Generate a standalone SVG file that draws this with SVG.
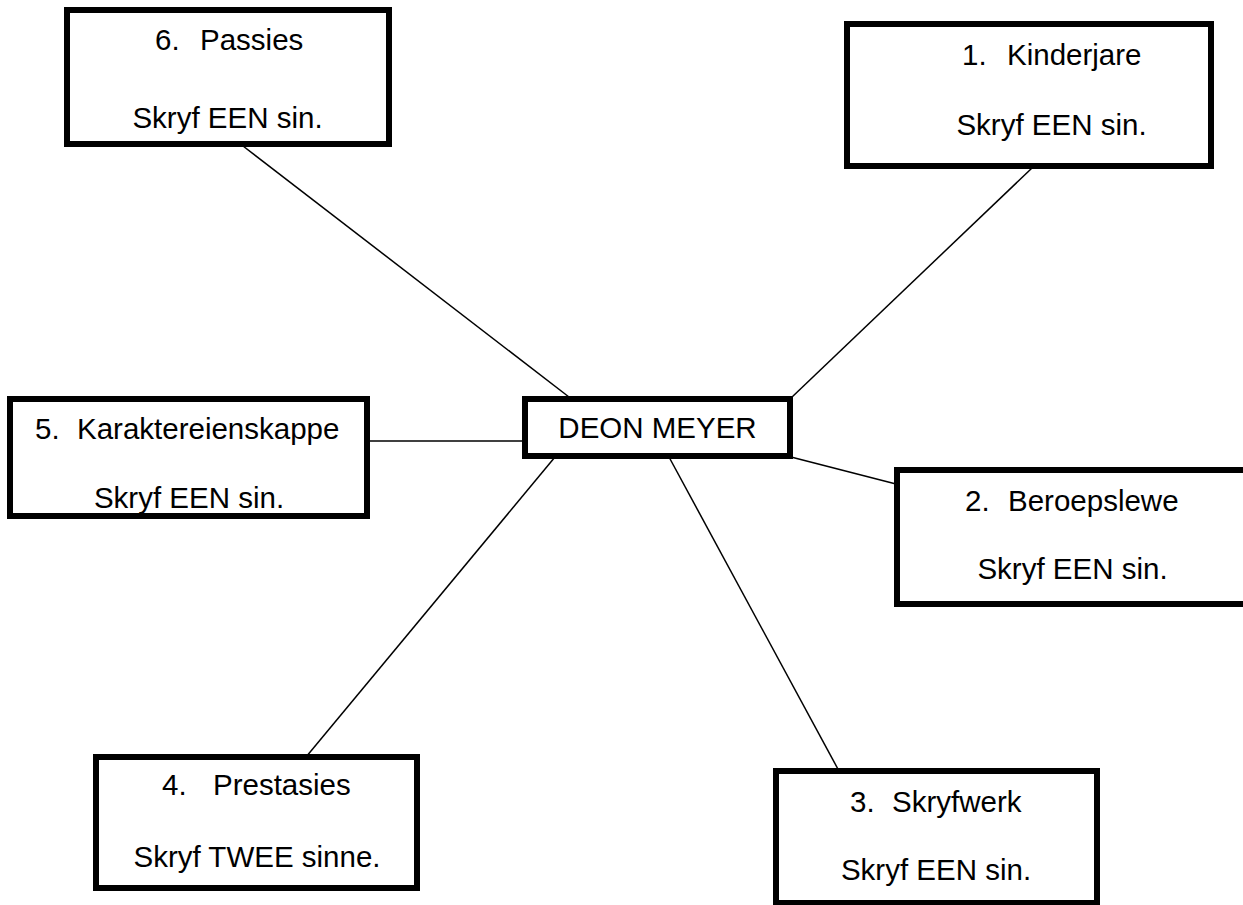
<svg xmlns="http://www.w3.org/2000/svg" width="1243" height="905" viewBox="0 0 1243 905">
<style>
.box{fill:#fff;stroke:#000;stroke-width:6}
.t{font-family:"Liberation Sans",Arial,sans-serif;font-size:29.5px;fill:#000}
.c{text-anchor:middle}
.ln{stroke:#000;stroke-width:1.5;fill:none}
</style>
<rect width="1243" height="905" fill="#fff"/>
<g id="connectors">
<line class="ln" x1="243" y1="146" x2="569" y2="397"/>
<line class="ln" x1="1032" y1="168" x2="791" y2="398"/>
<line class="ln" x1="368" y1="441" x2="525" y2="441"/>
<line class="ln" x1="791" y1="457" x2="896" y2="484"/>
<line class="ln" x1="555" y1="457" x2="306" y2="757"/>
<line class="ln" x1="669" y1="457" x2="839" y2="771"/>
</g>
<g id="node6">
<rect class="box" x="67" y="10" width="322" height="134"/>
<text class="t" y="50"><tspan x="155">6.</tspan><tspan x="200">Passies</tspan></text>
<text class="t c" x="227.5" y="128">Skryf EEN sin.</text>
</g>
<g id="node1">
<rect class="box" x="847" y="24" width="364" height="142"/>
<text class="t" y="65"><tspan x="962">1.</tspan><tspan x="1007">Kinderjare</tspan></text>
<text class="t c" x="1051.5" y="135">Skryf EEN sin.</text>
</g>
<g id="node5">
<rect class="box" x="10" y="399" width="357" height="117"/>
<text class="t" y="439"><tspan x="35">5.</tspan><tspan x="77">Karaktereienskappe</tspan></text>
<text class="t c" x="189" y="508">Skryf EEN sin.</text>
</g>
<g id="center">
<rect class="box" x="525" y="399" width="265" height="57"/>
<text class="t c" x="657.5" y="438">DEON MEYER</text>
</g>
<g id="node2">
<rect class="box" x="897" y="470" width="350" height="134"/>
<text class="t" y="511"><tspan x="965">2.</tspan><tspan x="1008">Beroepslewe</tspan></text>
<text class="t c" x="1072.5" y="579">Skryf EEN sin.</text>
</g>
<g id="node4">
<rect class="box" x="96" y="757" width="321" height="131"/>
<text class="t" y="795"><tspan x="162">4.</tspan><tspan x="213">Prestasies</tspan></text>
<text class="t c" x="257" y="867">Skryf TWEE sinne.</text>
</g>
<g id="node3">
<rect class="box" x="776" y="771" width="321" height="132"/>
<text class="t" y="812"><tspan x="850">3.</tspan><tspan x="892">Skryfwerk</tspan></text>
<text class="t c" x="936" y="880">Skryf EEN sin.</text>
</g>
</svg>
